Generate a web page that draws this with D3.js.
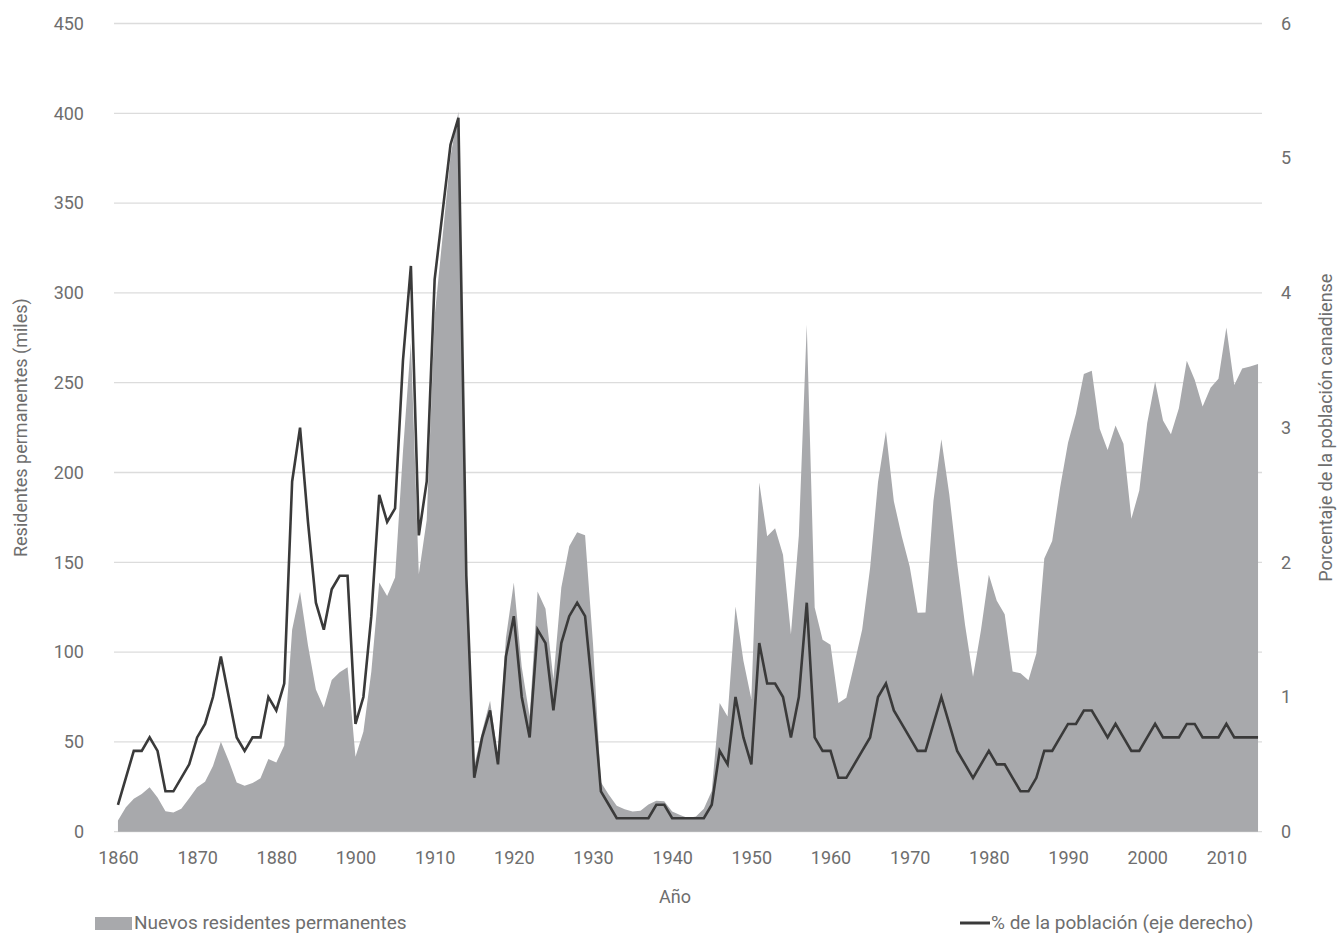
<!DOCTYPE html>
<html>
<head>
<meta charset="utf-8">
<script src="https://cdnjs.cloudflare.com/ajax/libs/d3/7.8.5/d3.min.js"></script>
<style>
  body { margin: 0; background: #fff; }
  text { font-family: Roboto, "Noto Sans", sans-serif; fill: #6e6e6e; }
</style>
</head>
<body>
<div id="chart"></div>
<script>
// years as the categories of the axis (1890s are not in the source series)
const years = [
  1860,1861,1862,1863,1864,1865,1866,1867,1868,1869,
  1870,1871,1872,1873,1874,1875,1876,1877,1878,1879,
  1880,1881,1882,1883,1884,1885,1886,1887,1888,1889,
  1900,1901,1902,1903,1904,1905,1906,1907,1908,1909,
  1910,1911,1912,1913,1914,1915,1916,1917,1918,1919,
  1920,1921,1922,1923,1924,1925,1926,1927,1928,1929,
  1930,1931,1932,1933,1934,1935,1936,1937,1938,1939,
  1940,1941,1942,1943,1944,1945,1946,1947,1948,1949,
  1950,1951,1952,1953,1954,1955,1956,1957,1958,1959,
  1960,1961,1962,1963,1964,1965,1966,1967,1968,1969,
  1970,1971,1972,1973,1974,1975,1976,1977,1978,1979,
  1980,1981,1982,1983,1984,1985,1986,1987,1988,1989,
  1990,1991,1992,1993,1994,1995,1996,1997,1998,1999,
  2000,2001,2002,2003,2004,2005,2006,2007,2008,2009,
  2010,2011,2012,2013,2014
];

// new permanent residents, thousands
const residents = [
  6.3,13.6,18.3,21.0,24.8,19.0,11.4,10.7,12.8,18.6,
  24.7,27.8,36.6,50.1,39.4,27.4,25.6,27.1,29.8,40.5,
  38.5,48.0,112.5,133.6,103.8,79.2,69.2,84.5,88.8,91.6,
  41.7,55.7,89.1,138.7,131.3,141.5,211.7,272.4,143.3,173.7,
  286.8,331.3,375.8,400.9,150.5,36.7,55.9,72.9,41.8,107.7,
  138.8,91.7,64.2,133.7,124.2,84.9,136.0,158.9,166.8,165.0,
  104.8,27.5,20.6,14.4,12.5,11.3,11.6,15.1,17.2,17.0,
  11.3,9.3,7.6,8.5,12.8,22.7,71.7,64.1,125.4,95.2,
  73.9,194.4,164.5,168.9,154.2,109.9,164.9,282.2,124.9,106.9,
  104.1,71.7,74.6,93.2,112.6,146.8,194.7,222.9,184.0,164.5,
  147.7,121.9,122.0,184.2,218.5,187.9,149.4,114.9,86.3,112.1,
  143.1,128.6,121.1,89.2,88.2,84.3,99.2,152.1,161.9,191.6,
  216.5,232.7,254.8,256.6,224.4,212.5,226.1,216.0,174.2,190.0,
  227.5,250.6,229.0,221.3,235.8,262.2,251.6,236.8,247.2,252.2,
  280.7,248.7,257.9,259.0,260.4
];

// % of Canadian population (right axis)
const pctPop = [
  0.2,0.4,0.6,0.6,0.7,0.6,0.3,0.3,0.4,0.5,
  0.7,0.8,1.0,1.3,1.0,0.7,0.6,0.7,0.7,1.0,
  0.9,1.1,2.6,3.0,2.3,1.7,1.5,1.8,1.9,1.9,
  0.8,1.0,1.6,2.5,2.3,2.4,3.5,4.2,2.2,2.6,
  4.1,4.6,5.1,5.3,1.9,0.4,0.7,0.9,0.5,1.3,
  1.6,1.0,0.7,1.5,1.4,0.9,1.4,1.6,1.7,1.6,
  1.0,0.3,0.2,0.1,0.1,0.1,0.1,0.1,0.2,0.2,
  0.1,0.1,0.1,0.1,0.1,0.2,0.6,0.5,1.0,0.7,
  0.5,1.4,1.1,1.1,1.0,0.7,1.0,1.7,0.7,0.6,
  0.6,0.4,0.4,0.5,0.6,0.7,1.0,1.1,0.9,0.8,
  0.7,0.6,0.6,0.8,1.0,0.8,0.6,0.5,0.4,0.5,
  0.6,0.5,0.5,0.4,0.3,0.3,0.4,0.6,0.6,0.7,
  0.8,0.8,0.9,0.9,0.8,0.7,0.8,0.7,0.6,0.6,
  0.7,0.8,0.7,0.7,0.7,0.8,0.8,0.7,0.7,0.7,
  0.8,0.7,0.7,0.7,0.7
];

const leftTicks = [0,50,100,150,200,250,300,350,400,450];
const rightTicks = [0,1,2,3,4,5,6];

const width = 1338, height = 934;
const plot = { left: 114, right: 1262, top: 23.5, bottom: 831.7 };

const svg = d3.select("#chart").append("svg")
  .attr("width", width)
  .attr("height", height);

const data = years.map((y, i) => ({ year: y, res: residents[i], pct: pctPop[i] }));

const x = d3.scalePoint()
  .domain(years)
  .range([plot.left, plot.right])
  .padding(0.5);

const yL = d3.scaleLinear().domain([0, 450]).range([plot.bottom, plot.top]);
const yR = d3.scaleLinear().domain([0, 6]).range([plot.bottom, plot.top]);

// gridlines
svg.append("g")
  .selectAll("line")
  .data(leftTicks)
  .join("line")
  .attr("x1", plot.left)
  .attr("x2", plot.right)
  .attr("y1", d => yL(d))
  .attr("y2", d => yL(d))
  .attr("stroke", "#dcdcdc")
  .attr("stroke-width", 1.3);

// area
const area = d3.area()
  .x(d => x(d.year))
  .y0(yL(0))
  .y1(d => yL(d.res));

svg.append("path")
  .datum(data)
  .attr("d", area)
  .attr("fill", "#a8a9ac");

// line
const line = d3.line()
  .x(d => x(d.year))
  .y(d => yR(d.pct));

svg.append("path")
  .datum(data)
  .attr("d", line)
  .attr("fill", "none")
  .attr("stroke", "#3a3a3a")
  .attr("stroke-width", 2.6);

// left axis labels
const axL = svg.append("g")
  .attr("transform", `translate(${plot.left - 30},0)`)
  .call(d3.axisLeft(yL).tickValues(leftTicks).tickSize(0).tickPadding(0));
axL.select(".domain").remove();
axL.selectAll("text").style("font-size", "18px").attr("fill", "#6e6e6e");

// right axis labels
const axR = svg.append("g")
  .attr("transform", `translate(${plot.right + 19},0)`)
  .call(d3.axisRight(yR).tickValues(rightTicks).tickFormat(d3.format("d")).tickSize(0).tickPadding(0));
axR.select(".domain").remove();
axR.selectAll("text").style("font-size", "18px").attr("fill", "#6e6e6e");

// bottom axis labels, every 10th category
const axB = svg.append("g")
  .attr("transform", `translate(0,${plot.bottom + 20})`)
  .call(d3.axisBottom(x).tickValues(years.filter((d, i) => i % 10 === 0)).tickSize(0).tickPadding(0));
axB.select(".domain").remove();
axB.selectAll("text").style("font-size", "18px").attr("fill", "#6e6e6e");

// axis titles
svg.append("text")
  .attr("transform", `translate(27,${(plot.top + plot.bottom) / 2}) rotate(-90)`)
  .attr("text-anchor", "middle")
  .style("font-size", "18px")
  .text("Residentes permanentes (miles)");

svg.append("text")
  .attr("transform", `translate(1332,${(plot.top + plot.bottom) / 2}) rotate(-90)`)
  .attr("text-anchor", "middle")
  .style("font-size", "18px")
  .text("Porcentaje de la población canadiense");

svg.append("text")
  .attr("x", 675)
  .attr("y", 903)
  .attr("text-anchor", "middle")
  .style("font-size", "18px")
  .text("Año");

// legend
svg.append("rect")
  .attr("x", 95)
  .attr("y", 917)
  .attr("width", 37)
  .attr("height", 13)
  .attr("fill", "#a8a9ac");

svg.append("text")
  .attr("x", 134)
  .attr("y", 929)
  .style("font-size", "19px")
  .text("Nuevos residentes permanentes");

svg.append("line")
  .attr("x1", 960)
  .attr("x2", 990)
  .attr("y1", 923)
  .attr("y2", 923)
  .attr("stroke", "#3a3a3a")
  .attr("stroke-width", 3);

svg.append("text")
  .attr("x", 991)
  .attr("y", 929)
  .style("font-size", "19px")
  .text("% de la población (eje derecho)");
</script>
</body>
</html>
